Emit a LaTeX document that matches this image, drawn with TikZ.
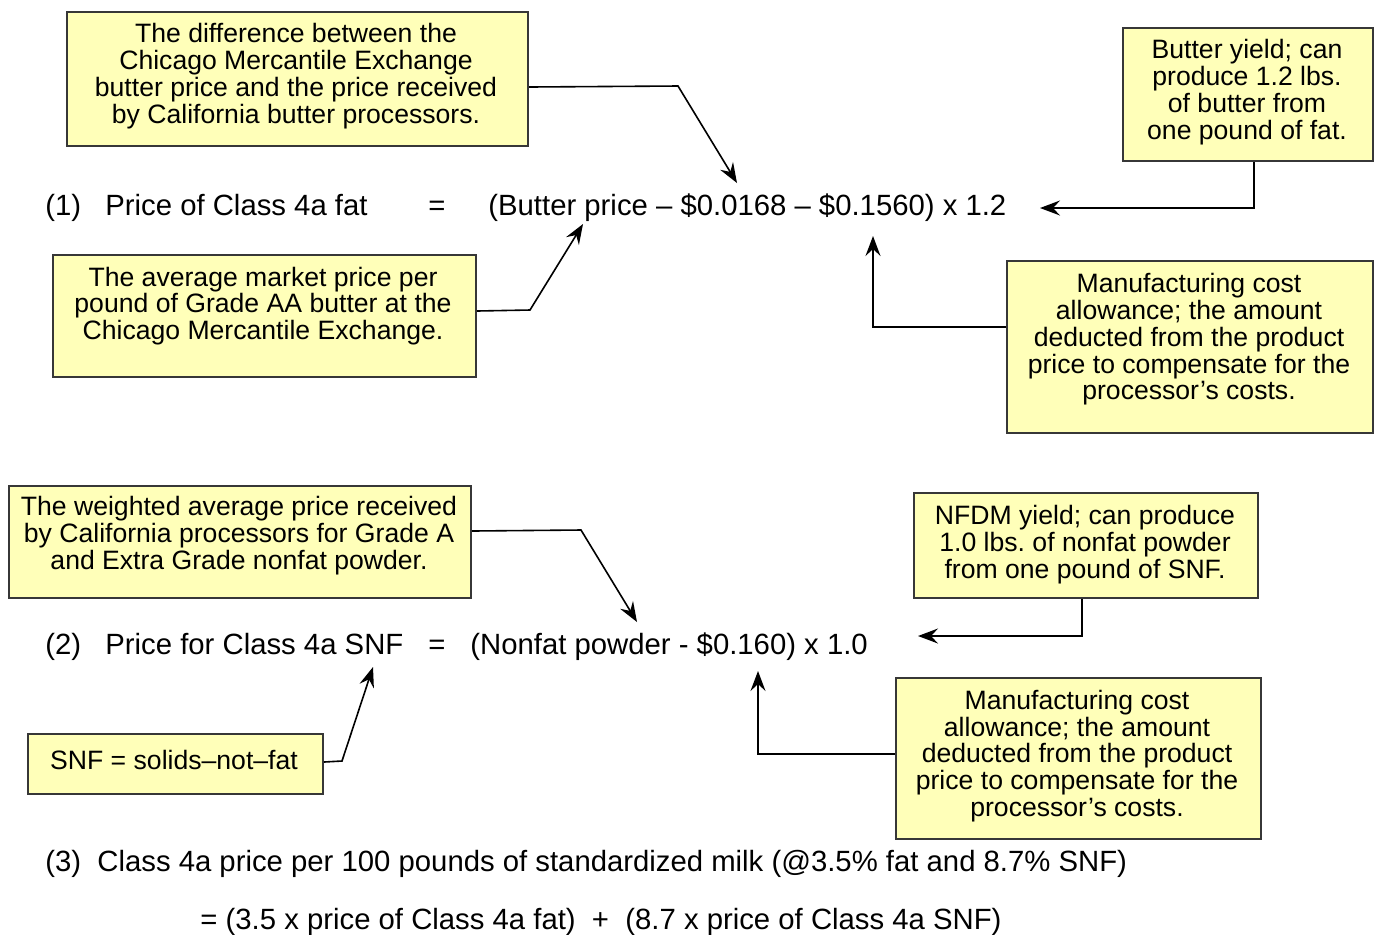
\documentclass[tikz,border=0pt]{standalone}
\usepackage{fontspec}
\setmainfont{Liberation Sans}
\frenchspacing
\usetikzlibrary{arrows.meta}
\definecolor{boxfill}{RGB}{255,255,185}
\definecolor{boxline}{RGB}{55,55,55}
\tikzset{
 box/.style={draw=boxline, fill=boxfill, line width=1pt, anchor=north west, inner sep=0pt},
 btxt/.style={align=center, font=\fontsize{13.3}{13.4}\selectfont, inner sep=0pt},
 eq/.style={anchor=base west, font=\fontsize{14.65}{16}\selectfont, inner sep=0pt},
 conn/.style={line width=0.8pt, -{Stealth[length=10pt,width=7.5pt,inset=3.5pt]}},
}
\begin{document}
\begin{tikzpicture}[x=0.5pt,y=-0.5pt]
\useasboundingbox (0,0) rectangle (1376,934);

% boxes
\node[box, minimum width=230.5pt, minimum height=67pt] (A) at (66,11) {};
\node[box, minimum width=125pt, minimum height=66.5pt] (B) at (1122,27) {};
\node[box, minimum width=211.5pt, minimum height=61pt] (C) at (52,254) {};
\node[box, minimum width=183pt, minimum height=86pt] (D) at (1006,260) {};
\node[box, minimum width=231pt, minimum height=56pt] (E) at (8,485) {};
\node[box, minimum width=172pt, minimum height=52.5pt] (F) at (913,492) {};
\node[box, minimum width=147.5pt, minimum height=30pt] (G) at (27,733) {};
\node[box, minimum width=182.5pt, minimum height=80.5pt] (H) at (895,677) {};

% box texts
\node[btxt] (At) at (296,76) {The difference between the\\Chicago Mercantile Exchange\\butter price and the price received\\by California butter processors.};
\node[btxt] (Bt) at (1247,92) {Butter yield; can\\produce 1.2 lbs.\\of butter from\\one pound of fat.};
\node[btxt] (Ct) at (263,306) {The average market price per\\pound of Grade AA butter at the\\Chicago Mercantile Exchange.};
\node[btxt] (Dt) at (1189,339.5) {Manufacturing cost\\allowance; the amount\\deducted from the product\\price to compensate for the\\processor’s costs.};
\node[btxt] (Et) at (239,535.5) {The weighted average price received\\by California processors for Grade A\\and Extra Grade nonfat powder.};
\node[btxt] (Ft) at (1085,544.5) {NFDM yield; can produce\\1.0 lbs. of nonfat powder\\from one pound of SNF.};
\node[btxt] (Gt) at (174,760) {SNF = solids–not–fat};
\node[btxt] (Ht) at (1077,756) {Manufacturing cost\\allowance; the amount\\deducted from the product\\price to compensate for the\\processor’s costs.};

% equations
\node[eq] (e1n) at (45,215) {(1)};
\node[eq] (e1a) at (105,215) {Price of Class 4a fat};
\node[eq, anchor=base] (e1b) at (437,215) {=};
\node[eq] (e1c) at (488,215) {(Butter price – \$0.0168 – \$0.1560) x 1.2};

\node[eq] (e2n) at (45,654) {(2)};
\node[eq] (e2a) at (105,654) {Price for Class 4a SNF};
\node[eq, anchor=base] (e2b) at (437,654) {=};
\node[eq] (e2c) at (470,654) {(Nonfat powder - \$0.160) x 1.0};

\node[eq] (e3n) at (45,871) {(3)};
\node[eq] (e3a) at (97,871) {Class 4a price per 100 pounds of standardized milk (@3.5\% fat and 8.7\% SNF)};
\node[eq] (e4) at (200,929) {= (3.5 x price of Class 4a fat)\ \ +\ \ (8.7 x price of Class 4a SNF)};

% arrow targets
\coordinate (tA) at (737,183);
\coordinate (tB) at (1040,208);
\coordinate (tC) at (583,224);
\coordinate (tD) at (873,236);
\coordinate (tE) at (637,622);
\coordinate (tF) at (918,636);
\coordinate (tG) at (373,667);
\coordinate (tH) at (758,671);

% connectors
\draw[conn] ([yshift=-4pt]A.east) -- (678,86) -- (tA);
\draw[conn] ([xshift=3pt]B.south) |- (tB);
\draw[conn] ([yshift=2.5pt]C.east) -- (530,310) -- (tC);
\draw[conn] ([yshift=10pt]D.west) -| (tD);
\draw[conn] ([yshift=5.5pt]E.east) -- (581,530) -- (tE);
\draw[conn] ([xshift=-2pt]F.south) |- (tF);
\draw[conn] ([yshift=1pt]G.east) -- (342,761) -- (tG);
\draw[conn] ([yshift=2.25pt]H.west) -| (tH);
\end{tikzpicture}
\end{document}
